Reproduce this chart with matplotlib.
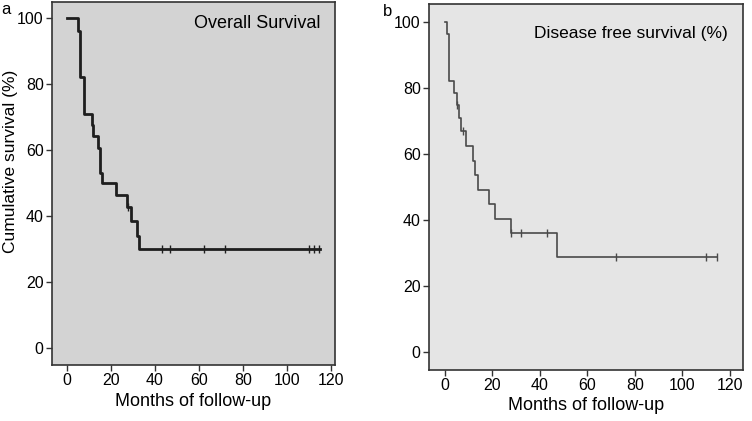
import matplotlib
matplotlib.use("Agg")
import matplotlib.pyplot as plt

# overall survival (panel a)
os_time = [0, 5.2, 5.9, 7.9, 11.2, 12, 14.2, 15, 15.9, 22.3, 27.4, 29, 32, 32.9, 115]
os_surv = [100, 96, 82, 71, 67.6, 64.2, 60.5, 53, 50, 46.4, 42.8, 38.4, 34, 30, 30]
os_cens_t = [27.8, 43, 47, 62.3, 72, 110, 112.4, 114.7]
os_cens_s = [42.8, 30, 30, 30, 30, 30, 30, 30]

# disease free survival (panel b)
dfs_time = [0, 0.9, 1.8, 3.8, 4.9, 6, 6.7, 8.8, 11.7, 12.6, 13.8, 18.7, 21, 27.8, 47, 114.5]
dfs_surv = [100, 96.5, 82, 78.4, 74.8, 70.8, 67, 62.4, 57.9, 53.6, 49.1, 44.8, 40.2, 35.9, 28.7, 28.7]
dfs_cens_t = [5, 7.7, 27.8, 31.9, 42.8, 72, 110, 114.4]
dfs_cens_s = [74.8, 67, 35.9, 35.9, 35.9, 28.7, 28.7, 28.7]

xticks = [0, 20, 40, 60, 80, 100, 120]
yticks = [0, 20, 40, 60, 80, 100]

plt.rcParams["font.family"] = ["Liberation Sans", "DejaVu Sans"]

W, H = 752, 421
fig = plt.figure(figsize=(W / 100, H / 100), dpi=100)


def panel(rect, t, s, ct, cs, xlim, ylim, bg, color, lw, title, tsize, ty):
    ax = fig.add_axes(rect)
    ax.set_facecolor(bg)
    ax.step(t, s, where="post", color=color, lw=lw)
    ax.plot(ct, cs, ls="none", marker="|", ms=6, mew=1, color=color)
    ax.set_xlim(*xlim); ax.set_ylim(*ylim)
    ax.set_xticks(xticks); ax.set_yticks(yticks)
    ax.tick_params(labelsize=11.5, length=4, width=1, color="#333", pad=2)
    for sp in ax.spines.values():
        sp.set_color("#333"); sp.set_linewidth(1.2)
    ax.set_xlabel("Months of follow-up", fontsize=13, labelpad=3)
    ax.text(0.95, ty, title, transform=ax.transAxes, ha="right", va="center", fontsize=tsize)
    return ax


axa = panel([52 / W, 1 - 365 / H, 283 / W, 363 / H], os_time, os_surv, os_cens_t, os_cens_s,
            (-6.8, 121.8), (-5.2, 104.8), "#d3d3d3", "#1e1e1e", 2.0, "Overall Survival", 13, 0.94)
axa.set_ylabel("Cumulative survival (%)", fontsize=12.5, labelpad=3)
axa.yaxis.set_label_coords(-0.12, 0.56)
axb = panel([429 / W, 1 - 370 / H, 314 / W, 366 / H], dfs_time, dfs_surv, dfs_cens_t, dfs_cens_s,
            (-6.7, 125.5), (-5.5, 105.5), "#e5e5e5", "#4a4a4a", 1.2, "Disease free survival (%)", 12.5, 0.92)

fig.text(1 / W, 1 - 10 / H, "a", fontsize=12, va="center")
fig.text(383 / W, 1 - 12 / H, "b", fontsize=12, va="center")

fig.savefig("out.png", dpi=100)
plt.close(fig)
